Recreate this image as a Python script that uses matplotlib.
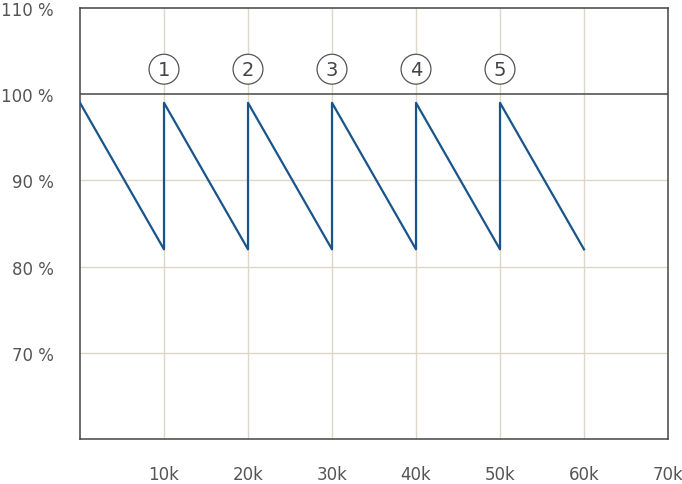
import matplotlib
matplotlib.use("Agg")
import matplotlib.pyplot as plt

# sawtooth: value drops from 99 % to 82 % over each 10k, then resets
saw_x = [0, 10000, 10000, 20000, 20000, 30000, 30000, 40000, 40000, 50000, 50000, 60000]
saw_y = [99, 82, 99, 82, 99, 82, 99, 82, 99, 82, 99, 82]
marker_x = [10000, 20000, 30000, 40000, 50000]
marker_labels = ["1", "2", "3", "4", "5"]
marker_y = 102.9
xticks = [10000, 20000, 30000, 40000, 50000, 60000, 70000]
xtick_labels = ["10k", "20k", "30k", "40k", "50k", "60k", "70k"]
yticks = [70, 80, 90, 100, 110]
ytick_labels = ["70 %", "80 %", "90 %", "100 %", "110 %"]

plt.rcParams["font.family"] = ["DejaVu Sans"]

fig = plt.figure(figsize=(6.82, 4.85), dpi=100)
ax = fig.add_axes([80 / 682, 45 / 485, 588 / 682, 431 / 485])

ax.set_xlim(0, 70000)
ax.set_ylim(60, 110)

# light grid
for x in xticks[:-1]:
    ax.axvline(x, color="#dcd7c6", lw=1, zorder=1)
for y in [70, 80, 90]:
    ax.axhline(y, color="#dcd7c6", lw=1, zorder=1)

ax.axhline(100, color="#555555", lw=1.2, zorder=2)
ax.plot(saw_x, saw_y, color="#19548a", lw=1.6, zorder=3)

for x, lab in zip(marker_x, marker_labels):
    ax.text(x, marker_y, lab, ha="center", va="center", fontsize=14, color="#444444",
            zorder=4,
            bbox=dict(boxstyle="circle,pad=0.28", fc="white", ec="#555555", lw=0.9))

ax.set_xticks(xticks)
ax.set_xticklabels(xtick_labels)
ax.set_yticks(yticks)
ax.set_yticklabels(ytick_labels)
ax.tick_params(length=0, labelsize=12, labelcolor="#555555")
ax.tick_params(axis="x", pad=19)
ax.tick_params(axis="y", pad=19)
for s in ax.spines.values():
    s.set_color("#444444")
    s.set_linewidth(1.1)

fig.savefig("out.png", dpi=100)
